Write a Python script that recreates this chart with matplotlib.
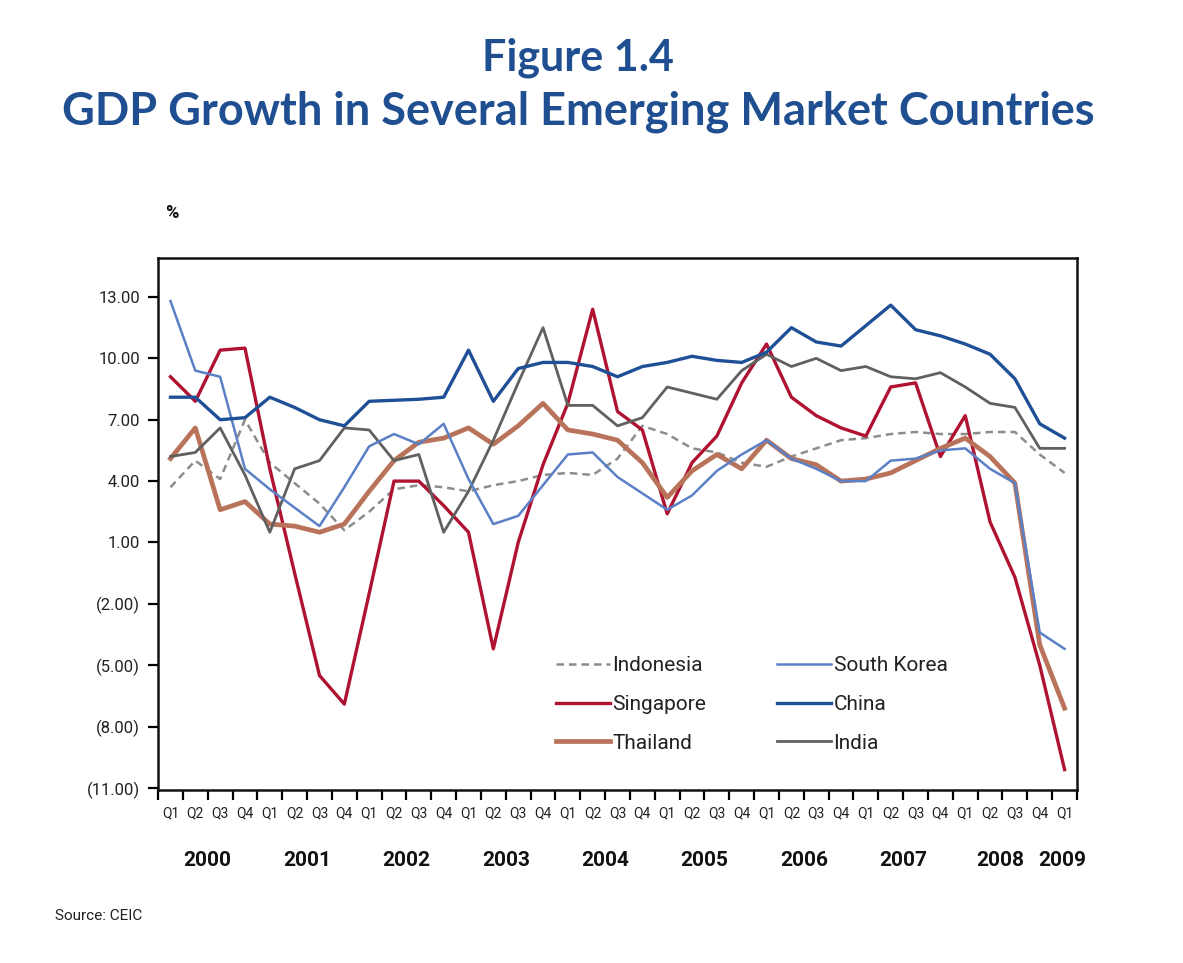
import matplotlib
matplotlib.use("Agg")
import matplotlib.pyplot as plt
import numpy as np
from matplotlib import font_manager
import matplotlib.transforms as mtrans

# ---------------- data ----------------
quarter_labels = ["Q1", "Q2", "Q3", "Q4"] * 9 + ["Q1"]
years = ["2000", "2001", "2002", "2003", "2004", "2005", "2006", "2007", "2008", "2009"]
year_label_pos = [1.5, 5.5, 9.5, 13.5, 17.5, 21.5, 25.5, 29.5, 33.4, 35.9]

y_ticks = [13, 10, 7, 4, 1, -2, -5, -8, -11]
y_tick_labels = ["13.00", "10.00", "7.00", "4.00", "1.00", "(2.00)", "(5.00)", "(8.00)", "(11.00)"]

indonesia = [3.7, 5.0, 4.1, 7.0, 4.9, 3.9, 2.9, 1.6, 2.5, 3.6, 3.8, 3.7, 3.5, 3.8, 4.0, 4.3, 4.4, 4.3,
             5.1, 6.7, 6.3, 5.6, 5.4, 4.9, 4.7, 5.2, 5.6, 6.0, 6.1, 6.3, 6.4, 6.3, 6.3, 6.4, 6.4, 5.3, 4.4]
singapore = [9.1, 7.9, 10.4, 10.5, 4.6, -0.5, -5.5, -6.9, -1.5, 4.0, 4.0, 2.8, 1.5, -4.2, 1.0, 4.8, 7.8,
             12.4, 7.4, 6.5, 2.4, 4.9, 6.2, 8.8, 10.7, 8.1, 7.2, 6.6, 6.2, 8.6, 8.8, 5.2, 7.2, 2.0, -0.7,
             -5.0, -10.1]
thailand = [5.1, 6.6, 2.6, 3.0, 1.9, 1.8, 1.5, 1.9, 3.5, 5.0, 5.9, 6.1, 6.6, 5.8, 6.7, 7.8, 6.5, 6.3,
            6.0, 4.9, 3.2, 4.5, 5.3, 4.6, 6.0, 5.1, 4.8, 4.0, 4.1, 4.4, 5.0, 5.6, 6.1, 5.2, 3.9, -4.0, -7.1]
south_korea = [12.8, 9.4, 9.1, 4.6, 3.6, 2.7, 1.8, 3.7, 5.7, 6.3, 5.8, 6.8, 4.1, 1.9, 2.3, 3.8, 5.3,
               5.4, 4.2, 3.4, 2.6, 3.3, 4.5, 5.3, 6.0, 5.1, 4.6, 4.0, 4.0, 5.0, 5.1, 5.5, 5.6, 4.6, 3.9,
               -3.4, -4.2]
china = [8.1, 8.1, 7.0, 7.1, 8.1, 7.6, 7.0, 6.7, 7.9, 7.95, 8.0, 8.1, 10.4, 7.9, 9.5, 9.8, 9.8, 9.6,
         9.1, 9.6, 9.8, 10.1, 9.9, 9.8, 10.3, 11.5, 10.8, 10.6, 11.6, 12.6, 11.4, 11.1, 10.7, 10.2, 9.0,
         6.8, 6.1]
india = [5.2, 5.4, 6.6, 4.3, 1.5, 4.6, 5.0, 6.6, 6.5, 5.0, 5.3, 1.5, 3.5, 6.0, 8.8, 11.5, 7.7, 7.7,
         6.7, 7.1, 8.6, 8.3, 8.0, 9.4, 10.2, 9.6, 10.0, 9.4, 9.6, 9.1, 9.0, 9.3, 8.6, 7.8, 7.6, 5.6, 5.6]

# ---------------- fonts ----------------
available = {f.name for f in font_manager.fontManager.ttflist}
narrow = "Liberation Sans Narrow" if "Liberation Sans Narrow" in available else "Roboto"
title_font = "Lato" if "Lato" in available else "DejaVu Sans"

title_color = "#1f4f91"

fig = plt.figure(figsize=(11.83, 9.63), dpi=100)
ax = fig.add_axes([0.1336, 0.1796, 0.7768, 0.5524])

x = np.arange(len(quarter_labels))

ax.plot(x, indonesia, color="#8c8c8c", lw=1.8, dashes=(3, 2), label="Indonesia", zorder=2)
ax.plot(x, singapore, color="#b01232", lw=2.4, label="Singapore", zorder=3)
ax.plot(x, thailand, color="#b8735a", lw=3.4, label="Thailand", zorder=3)
ax.plot(x, south_korea, color="#5b80c6", lw=1.8, label="South Korea", zorder=4)
ax.plot(x, china, color="#1f4f96", lw=2.4, label="China", zorder=4)
ax.plot(x, india, color="#606060", lw=2.0, label="India", zorder=3)

ax.set_xlim(-0.45, 36.45)
ax.set_ylim(-11.1, 14.9)

# y axis
ax.set_yticks(y_ticks)
ax.set_yticklabels(y_tick_labels, fontsize=12, family=narrow, color="#222222")
ax.tick_params(axis="y", direction="out", length=7, width=1.6, pad=6)

# x axis: ticks at boundaries, labels at quarters
ax.set_xticks(np.arange(-0.5, 37.0, 1.0))
ax.set_xticklabels([])
ax.tick_params(axis="x", which="major", direction="out", length=7, width=1.6)
ax.set_xticks(x, minor=True)
ax.set_xticklabels(quarter_labels, minor=True, fontsize=10, family=narrow, color="#222222")
ax.tick_params(axis="x", which="minor", length=0, pad=12)

for s in ax.spines.values():
    s.set_linewidth(1.8)
    s.set_color("#111111")

trans = mtrans.blended_transform_factory(ax.transData, fig.transFigure)
for yr, pos in zip(years, year_label_pos):
    ax.text(pos, 1 - 860 / 963, yr, transform=trans, ha="center", va="center",
            fontsize=15, fontweight="bold", family=narrow, color="#111111")

leg = ax.legend(ncol=2, loc="upper left", bbox_to_anchor=(0.413, 0.287), frameon=False,
                handlelength=2.6, handletextpad=0.1, columnspacing=3.4, labelspacing=0.95,
                prop={"family": narrow, "size": 15})
for t in leg.get_texts():
    t.set_color("#222222")

fig.text(578 / 1183, 1 - 58 / 963, "Figure 1.4", ha="center", va="center", fontsize=31,
         fontweight="bold", family=title_font, color=title_color)
fig.text(578 / 1183, 1 - 112 / 963, "GDP Growth in Several Emerging Market Countries",
         ha="center", va="center", fontsize=32.5, fontweight="bold", family=title_font,
         color=title_color)

fig.text(172 / 1183, 1 - 213 / 963, "%", ha="center", va="center", fontsize=13,
         fontweight="bold", family=narrow, color="#111111")
fig.text(55 / 1183, 1 - 916 / 963, "Source: CEIC", ha="left", va="center", fontsize=11,
         family=narrow, color="#222222")

fig.savefig("out.png", dpi=100, facecolor="white")
